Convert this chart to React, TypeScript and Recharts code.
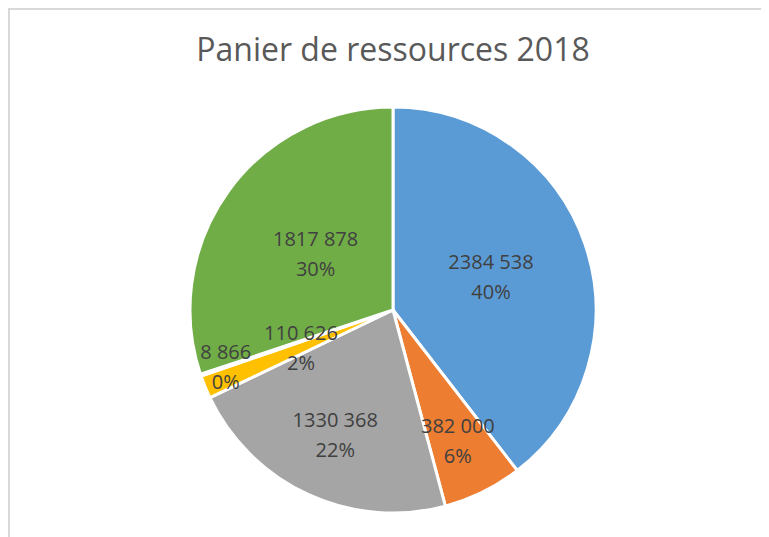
import React from 'react';
import { PieChart, Pie, Cell } from 'recharts';

const categories = ['A', 'B', 'C', 'D', 'E', 'F'];
const values = [2384538, 382000, 1330368, 110626, 8866, 1817878];
const colors = ['#5B9BD5', '#ED7D31', '#A5A5A5', '#FFC000', '#4472C4', '#70AD47'];

// label distance from centre, as a share of the radius (Excel "best fit")
const labelRadius = [0.51, 0.72, 0.68, 0.49, 0.87, 0.47];

const total = values.reduce((s, v) => s + v, 0);
const data = categories.map((name, i) => ({ name, value: values[i] }));

const fmt = (v: number) => {
  const s = String(v);
  return s.length > 3 ? s.slice(0, s.length - 3) + ' ' + s.slice(-3) : s;
};

const RADIAN = Math.PI / 180;

const renderLabel = (props: any) => {
  const { cx, cy, midAngle, outerRadius, index, value } = props;
  const r = outerRadius * labelRadius[index];
  const x = cx + r * Math.cos(-midAngle * RADIAN);
  const y = cy + r * Math.sin(-midAngle * RADIAN);
  const pct = Math.round((value / total) * 100);
  return (
    <text
      x={x}
      y={y}
      textAnchor="middle"
      fill="#404040"
      fontSize={20}
      fontFamily="'Open Sans', sans-serif"
    >
      <tspan x={x} dy={-8}>{fmt(value)}</tspan>
      <tspan x={x} dy={30}>{pct}%</tspan>
    </text>
  );
};

export default function App() {
  return (
    <div
      style={{
        position: 'relative',
        width: 761,
        height: 529,
        boxSizing: 'border-box',
        borderLeft: '2px solid #d9d9d9',
        borderTop: '2px solid #d9d9d9',
        background: '#fff',
        overflow: 'hidden',
      }}
    >
      <div
        style={{
          position: 'absolute',
          left: 0,
          top: 17,
          width: 766,
          textAlign: 'center',
          fontFamily: "'Open Sans', sans-serif",
          fontSize: 32,
          color: '#595959',
        }}
      >
        Panier de ressources 2018
      </div>
      <PieChart width={759} height={527} style={{ position: 'absolute', left: 0, top: 0 }}>
        <Pie
          data={data}
          dataKey="value"
          nameKey="name"
          cx={378}
          cy={295}
          outerRadius={203}
          startAngle={90}
          endAngle={-270}
          stroke="#ffffff"
          strokeWidth={3}
          label={renderLabel}
          labelLine={false}
          isAnimationActive={false}
        >
          {data.map((d, i) => (
            <Cell key={d.name} fill={colors[i]} />
          ))}
        </Pie>
      </PieChart>
    </div>
  );
}
